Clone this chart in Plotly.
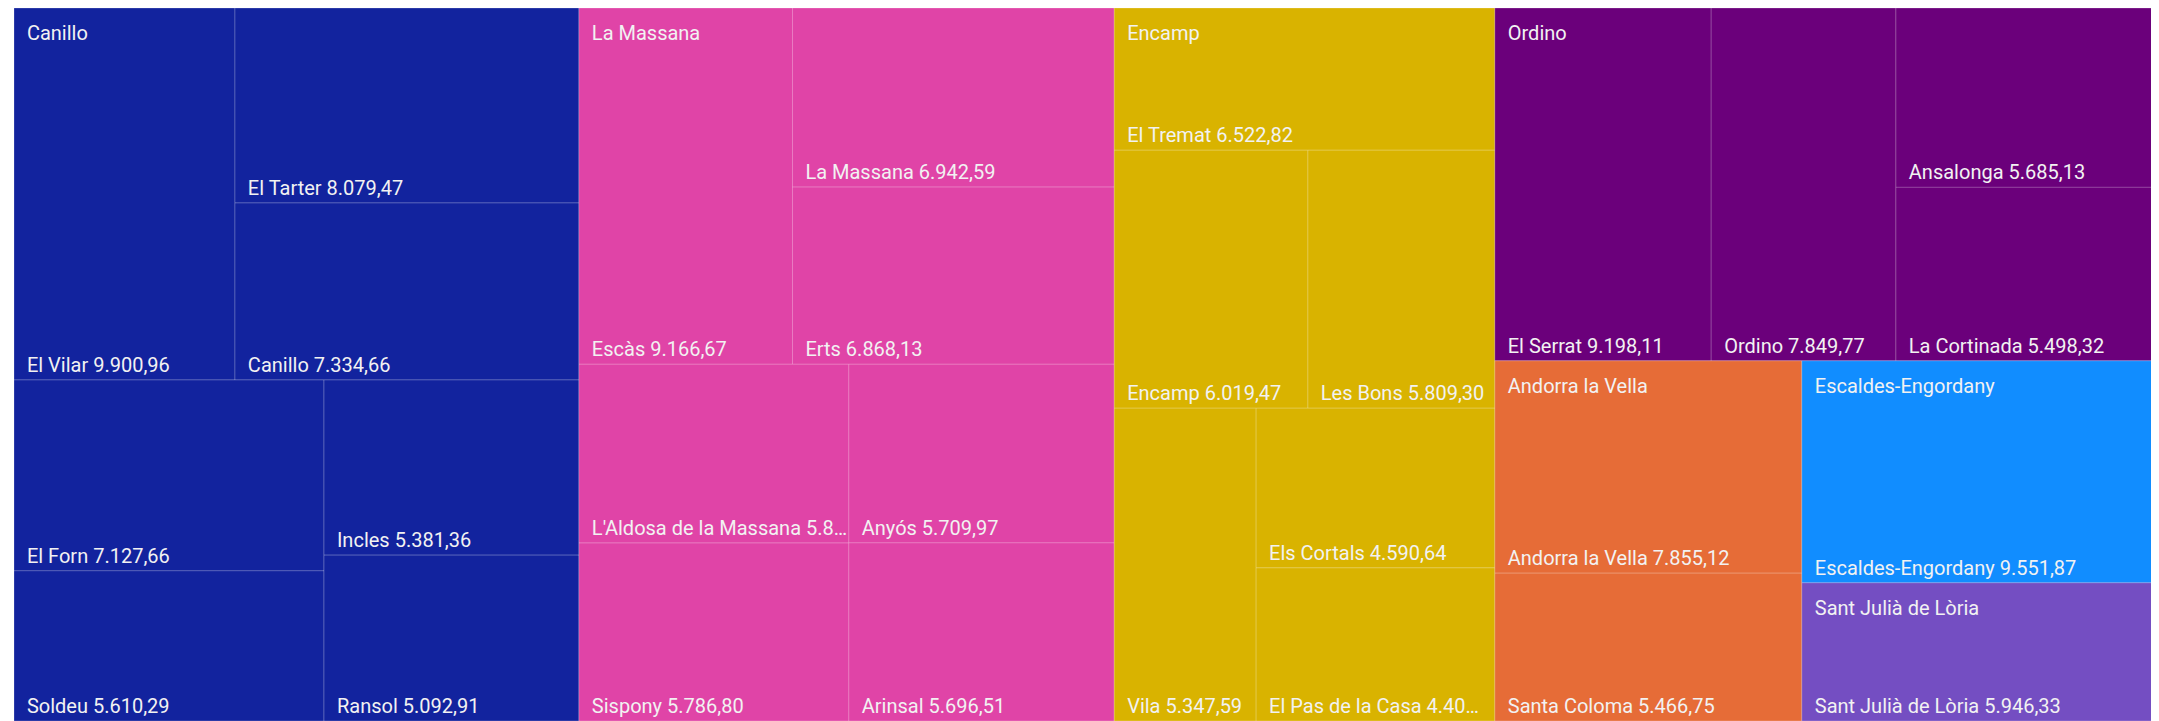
import plotly.graph_objects as go

# ---- data ----
parishes = ["Canillo", "La Massana", "Encamp", "Ordino",
            "Andorra la Vella", "Escaldes-Engordany", "Sant Julià de Lòria"]
parish_colors = ["#12239E", "#E044A7", "#D9B300", "#6B007B",
                 "#E66C37", "#118DFF", "#744EC2"]

towns = ["El Vilar", "El Tarter", "Canillo", "El Forn", "Soldeu", "Incles", "Ransol",
         "Escàs", "La Massana", "Erts", "L'Aldosa de la Massana", "Sispony", "Anyós", "Arinsal",
         "El Tremat", "Encamp", "Les Bons", "Vila", "Els Cortals", "El Pas de la Casa",
         "El Serrat", "Ordino", "Ansalonga", "La Cortinada",
         "Andorra la Vella", "Santa Coloma",
         "Escaldes-Engordany",
         "Sant Julià de Lòria"]
town_parish = ["Canillo"] * 7 + ["La Massana"] * 7 + ["Encamp"] * 6 + ["Ordino"] * 4 + \
              ["Andorra la Vella"] * 2 + ["Escaldes-Engordany"] + ["Sant Julià de Lòria"]
town_values = [9900.96, 8079.47, 7334.66, 7127.66, 5610.29, 5381.36, 5092.91,
               9166.67, 6942.59, 6868.13, 5812.00, 5786.80, 5709.97, 5696.51,
               6522.82, 6019.47, 5809.30, 5347.59, 4590.64, 4403.00,
               9198.11, 7849.77, 5685.13, 5498.32,
               7855.12, 5466.75,
               9551.87,
               5946.33]
# labels cut short with an ellipsis in the original chart (max characters shown)
truncated_len = {"L'Aldosa de la Massana": 26, "El Pas de la Casa": 22}

FONT = "Segoe UI, Roboto, sans-serif"
PAD = "\u00a0\u00a0"


def fmt(v):
    s = f"{v:,.2f}"
    return s.replace(",", "X").replace(".", ",").replace("X", ".")


def leaf_text(name, v):
    t = f"{name} {fmt(v)}"
    if name in truncated_len:
        t = t[:truncated_len[name]] + "…"
    return PAD + t


parish_values = [sum(v for p, v in zip(town_parish, town_values) if p == par) for par in parishes]
color_of = dict(zip(parishes, parish_colors))

ids = list(parishes) + [f"{p}/{t}" for p, t in zip(town_parish, towns)]
labels = list(parishes) + towns
parents = [""] * len(parishes) + town_parish
values = parish_values + town_values
colors = parish_colors + [color_of[p] for p in town_parish]
texts = [""] * len(parishes) + [leaf_text(t, v) for t, v in zip(towns, town_values)]

PLOT_H = 713      # height of the treemap area
HEAD_SHIFT = 10   # header labels sit a little lower than the group's top edge
FIG_H = PLOT_H + HEAD_SHIFT

fig = go.Figure()

fig.add_trace(go.Treemap(
    ids=ids, labels=labels, parents=parents, values=values,
    branchvalues="total", sort=True,
    text=texts, textinfo="text", textposition="bottom left",
    marker=dict(colors=colors, line=dict(color="rgba(255,255,255,0.22)", width=1),
                pad=dict(t=0, l=0, r=0, b=0)),
    tiling=dict(packing="binary", pad=0),
    pathbar=dict(visible=False),
    insidetextfont=dict(family=FONT, size=20, color="#F2F2F2"),
    hoverinfo="label+value",
    domain=dict(x=[0, 1], y=[HEAD_SHIFT / FIG_H, 1]),
))

# parish (group) headers, drawn in the top-left of each group (same layout, shifted down)
fig.add_trace(go.Treemap(
    ids=parishes, labels=parishes, parents=[""] * len(parishes), values=parish_values,
    sort=True,
    text=[PAD + p for p in parishes], textinfo="text", textposition="top left",
    marker=dict(colors=["rgba(0,0,0,0)"] * len(parishes), line=dict(width=0),
                pad=dict(t=0, l=0, r=0, b=0)),
    tiling=dict(packing="binary", pad=0),
    pathbar=dict(visible=False),
    insidetextfont=dict(family=FONT, size=20, color="#F2F2F2"),
    hoverinfo="skip",
    domain=dict(x=[0, 1], y=[0, PLOT_H / FIG_H]),
))

fig.update_layout(
    width=2151, height=FIG_H,
    margin=dict(l=6, r=0, t=0, b=0),
    paper_bgcolor="white",
    uniformtext=dict(minsize=20, mode="show"),
    font=dict(family=FONT),
)

fig.write_html("out.html")
